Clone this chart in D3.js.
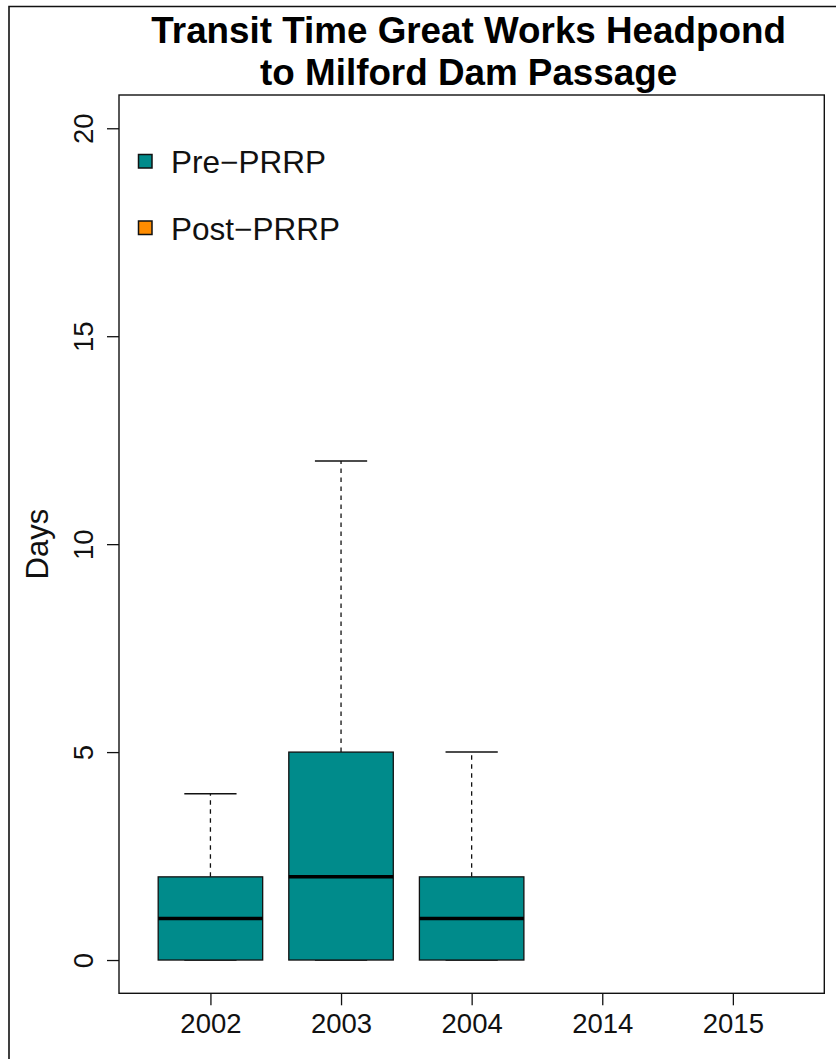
<!DOCTYPE html>
<html>
<head>
<meta charset="utf-8">
<script src="https://cdn.jsdelivr.net/npm/d3@7"></script>
<style>
  html, body { margin: 0; padding: 0; background: #fff; }
  svg { display: block; font-family: "Liberation Sans", Arial, Helvetica, sans-serif; }
</style>
</head>
<body>
<svg id="chart" width="836" height="1059"></svg>
<script>
// ---- data ----
const categories = ["2002", "2003", "2004", "2014", "2015"];
const mins    = [0, 0, 0, null, null];
const q1s     = [0, 0, 0, null, null];
const medians = [1, 2, 1, null, null];
const q3s     = [2, 5, 2, null, null];
const maxs    = [4, 12, 5, null, null];
const yTicks  = [0, 5, 10, 15, 20];
const legendLabels = ["Pre\u2212PRRP", "Post\u2212PRRP"];
const legendColors = ["#008B8B", "#FF8C00"];
const titleLines = ["Transit Time Great Works Headpond", "to Milford Dam Passage"];
const yLabel = "Days";

// ---- layout ----
const W = 836, H = 1059;
const plot = { left: 119, right: 824.3, top: 95, bottom: 993.3 };
const svg = d3.select("#chart");
const ink = "#111";

const x = d3.scaleLinear().domain([0.3, categories.length + 0.7]).range([plot.left, plot.right]);
const y = d3.scaleLinear().domain([-0.8, 20.8]).range([plot.bottom, plot.top]);

const boxes = categories.map((c, i) => ({
  cat: c, pos: i + 1, min: mins[i], q1: q1s[i], med: medians[i], q3: q3s[i], max: maxs[i]
})).filter(d => d.med !== null);

const halfBox = 0.4, halfCap = 0.2;

// outer figure border (left and top visible)
svg.append("path")
  .attr("d", `M9,${H + 5} L9,6.5 L${W + 5},6.5`)
  .attr("fill", "none").attr("stroke", ink).attr("stroke-width", 1.6);

// whiskers
const g = svg.append("g");
boxes.forEach(d => {
  g.append("line")
    .attr("x1", x(d.pos)).attr("x2", x(d.pos))
    .attr("y1", y(d.q3)).attr("y2", y(d.max))
    .attr("stroke", ink).attr("stroke-width", 1.3).attr("stroke-dasharray", "4.5,4.5");
  g.append("line")
    .attr("x1", x(d.pos)).attr("x2", x(d.pos))
    .attr("y1", y(d.q1)).attr("y2", y(d.min))
    .attr("stroke", ink).attr("stroke-width", 1.3).attr("stroke-dasharray", "4.5,4.5");
  [d.max, d.min].forEach(v => {
    g.append("line")
      .attr("x1", x(d.pos - halfCap)).attr("x2", x(d.pos + halfCap))
      .attr("y1", y(v)).attr("y2", y(v))
      .attr("stroke", ink).attr("stroke-width", 1.5);
  });
});

// boxes
g.selectAll("rect.box").data(boxes).join("rect")
  .attr("class", "box")
  .attr("x", d => x(d.pos - halfBox))
  .attr("width", d => x(d.pos + halfBox) - x(d.pos - halfBox))
  .attr("y", d => y(d.q3))
  .attr("height", d => y(d.q1) - y(d.q3))
  .attr("fill", legendColors[0])
  .attr("stroke", ink).attr("stroke-width", 1.3);

// medians
g.selectAll("line.med").data(boxes).join("line")
  .attr("class", "med")
  .attr("x1", d => x(d.pos - halfBox)).attr("x2", d => x(d.pos + halfBox))
  .attr("y1", d => y(d.med)).attr("y2", d => y(d.med))
  .attr("stroke", "#000").attr("stroke-width", 3.5);

// plot box
svg.append("rect")
  .attr("x", plot.left).attr("y", plot.top)
  .attr("width", plot.right - plot.left).attr("height", plot.bottom - plot.top)
  .attr("fill", "none").attr("stroke", ink).attr("stroke-width", 1.4);

// x axis
const xAxis = d3.axisBottom(x)
  .tickValues(categories.map((c, i) => i + 1))
  .tickFormat((v) => categories[v - 1])
  .tickSize(12).tickPadding(8);
const gx = svg.append("g").attr("transform", `translate(0,${plot.bottom})`).call(xAxis);
gx.select(".domain").remove();
gx.selectAll(".tick line").attr("stroke", ink).attr("stroke-width", 1.3);
gx.selectAll(".tick text")
  .attr("font-size", 27.5).attr("fill", ink)
  .attr("font-family", "Liberation Sans, Arial, sans-serif");

// y axis
const yAxis = d3.axisLeft(y).tickValues(yTicks).tickSize(12).tickFormat(d3.format("d"));
const gy = svg.append("g").attr("transform", `translate(${plot.left},0)`).call(yAxis);
gy.select(".domain").remove();
gy.selectAll(".tick line").attr("stroke", ink).attr("stroke-width", 1.3);
gy.selectAll(".tick text")
  .attr("font-size", 27.5).attr("fill", ink)
  .attr("font-family", "Liberation Sans, Arial, sans-serif")
  .attr("x", null).attr("dy", null)
  .attr("text-anchor", "middle")
  .attr("transform", `translate(${93 - plot.left},0) rotate(-90)`);

// y label
svg.append("text")
  .attr("transform", `translate(48,${(plot.top + plot.bottom) / 2}) rotate(-90)`)
  .attr("text-anchor", "middle")
  .attr("font-size", 31).attr("fill", ink)
  .text(yLabel);

// title
const cx = (plot.left + plot.right) / 2 - 3;
svg.selectAll("text.title").data(titleLines).join("text")
  .attr("class", "title")
  .attr("x", cx)
  .attr("y", (d, i) => 43 + i * 41.5)
  .attr("text-anchor", "middle")
  .attr("font-size", 36.8).attr("font-weight", "bold").attr("fill", "#000")
  .text(d => d);

// legend
const leg = svg.append("g");
legendLabels.forEach((lab, i) => {
  const cy = 161.5 + i * 66.5;
  leg.append("rect")
    .attr("x", 138.5).attr("y", cy - 7)
    .attr("width", 13.5).attr("height", 13.5)
    .attr("fill", legendColors[i]).attr("stroke", ink).attr("stroke-width", 1.5);
  leg.append("text")
    .attr("x", 171).attr("y", cy + 11.5)
    .attr("font-size", 31.5).attr("fill", ink)
    .text(lab);
});
</script>
</body>
</html>
